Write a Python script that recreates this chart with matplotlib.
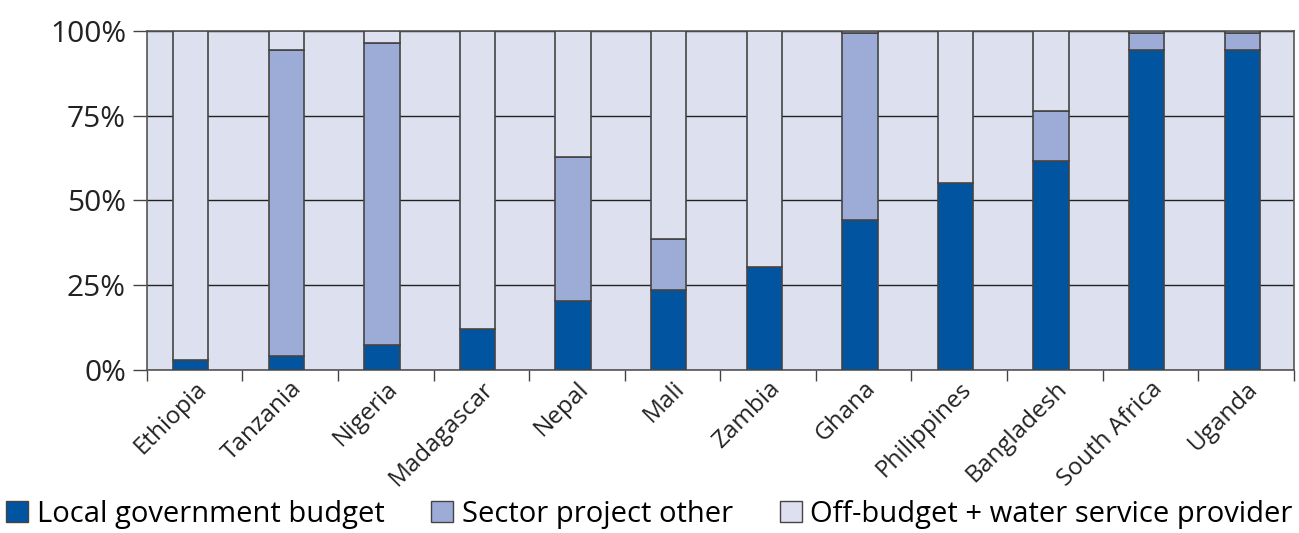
import matplotlib
matplotlib.use("Agg")
import matplotlib.pyplot as plt
import numpy as np
from matplotlib.patches import Patch

countries = ["Ethiopia", "Tanzania", "Nigeria", "Madagascar", "Nepal", "Mali",
             "Zambia", "Ghana", "Philippines", "Bangladesh", "South Africa", "Uganda"]
local_budget = [2.8, 4.0, 7.4, 12.2, 20.2, 23.6, 30.3, 44.1, 55.0, 61.5, 94.5, 94.5]
sector_project = [0.0, 90.5, 89.0, 0.0, 42.7, 14.9, 0.0, 55.4, 0.0, 14.8, 5.0, 5.0]
off_budget = [100 - a - b for a, b in zip(local_budget, sector_project)]

series_names = ["Local government budget", "Sector project other",
                "Off-budget + water service provider"]
y_ticks = [0, 25, 50, 75, 100]
y_labels = ["0%", "25%", "50%", "75%", "100%"]

DARK = "#0054A0"
MID = "#9DACD6"
LIGHT = "#DDE0EF"
EDGE = "#444444"

plt.rcParams["font.family"] = ["Open Sans", "DejaVu Sans"]

fig = plt.figure(figsize=(12.99, 5.33), dpi=100)
ax = fig.add_axes([0.113, 0.306, 0.883, 0.636])
ax.set_facecolor(LIGHT)

x = np.arange(len(countries))
width = 0.37
xb = x - 0.04
ax.bar(xb, local_budget, width, color=DARK, edgecolor=EDGE, linewidth=1.2, zorder=3)
ax.bar(xb, sector_project, width, bottom=local_budget, color=MID,
       edgecolor=EDGE, linewidth=1.2, zorder=3)
bottom2 = [a + b for a, b in zip(local_budget, sector_project)]
ax.bar(xb, off_budget, width, bottom=bottom2, color=LIGHT,
       edgecolor=EDGE, linewidth=1.2, zorder=3)

ax.set_xlim(-0.5, len(countries) - 0.5)
ax.set_ylim(0, 100)
ax.set_yticks(y_ticks)
ax.set_yticklabels(y_labels, fontsize=21.5, color="#222222")
ax.yaxis.grid(True, color="#222222", linewidth=1.0, zorder=1)
ax.set_axisbelow(True)

ax.set_xticks(np.arange(len(countries) + 1) - 0.5)
ax.set_xticklabels([])
ax.set_xticks(x, minor=True)
ax.set_xticklabels(countries, minor=True, rotation=45, ha="right", va="top",
                   rotation_mode="anchor", fontsize=17.5, color="#222222")
ax.tick_params(axis="x", which="major", length=8, width=1, color="#444444")
ax.tick_params(axis="x", which="minor", length=0, pad=5)
ax.tick_params(axis="y", length=10, width=1, color="#444444", pad=5)

for s in ax.spines.values():
    s.set_color("#555555")
    s.set_linewidth(1.2)

handles = [Patch(facecolor=c, edgecolor=EDGE, linewidth=1.0)
           for c in (DARK, MID, LIGHT)]
fig.legend(handles, series_names, loc="center", bbox_to_anchor=(0.5, 0.035),
           ncol=3, frameon=False, fontsize=21, handlelength=0.75,
           handleheight=0.75, handletextpad=0.3, columnspacing=1.6,
           borderaxespad=0, borderpad=0)

fig.savefig("out.png", dpi=100)
